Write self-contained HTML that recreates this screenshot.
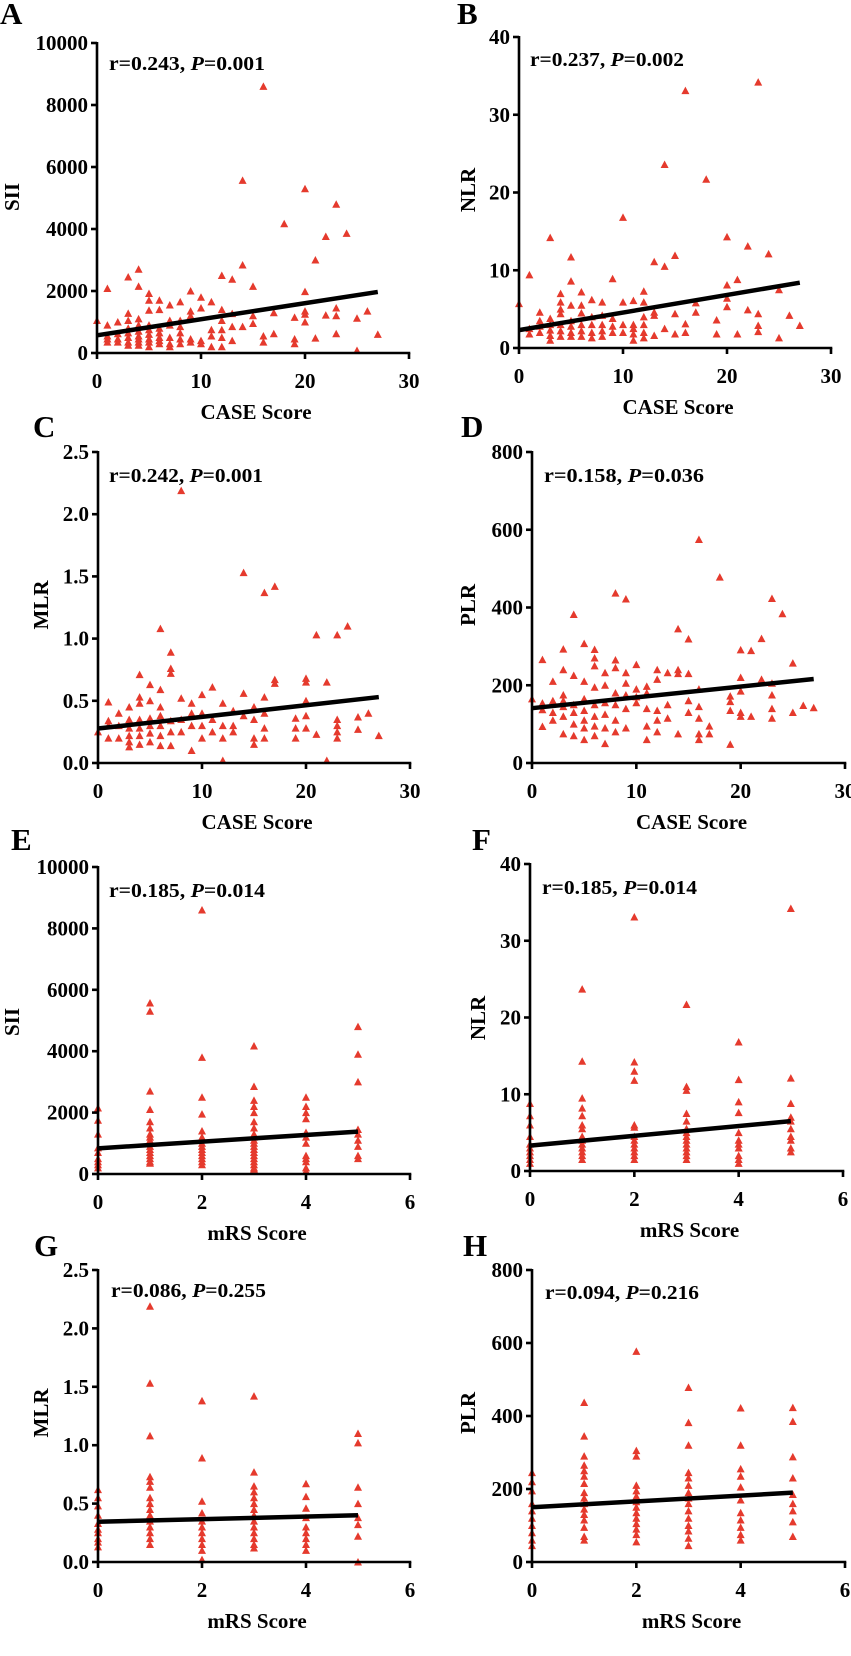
<!DOCTYPE html>
<html><head><meta charset="utf-8"><style>
html,body{margin:0;padding:0;background:#fff;}
svg{display:block;font-family:"Liberation Serif","Times New Roman",serif;font-weight:bold;}
</style></head><body>
<svg id="fig" width="851" height="1656" viewBox="0 0 851 1656" xmlns="http://www.w3.org/2000/svg"></svg>
<script>
// ---- data ----
const caseTicks = [0, 10, 20, 30];
const mrsTicks = [0, 2, 4, 6];
const siiTicks = [0, 2000, 4000, 6000, 8000, 10000];
const nlrTicks = [0, 10, 20, 30, 40];
const mlrTicks = [0, 0.5, 1.0, 1.5, 2.0, 2.5];
const plrTicks = [0, 200, 400, 600, 800];

const aSII = [[1050],[2080,900,550,450,350],[1000,620,450,350],[2450,1280,1050,800,650,500,350,250],[2700,2150,1100,900,700,550,450,350,250],[1920,1700,1380,900,750,600,450,350,200],[1700,1400,800,650,500,400,300],[1550,1050,900,500,300,200],[1650,1050,850,650,450,300],[2000,1350,1200,450,350],[1800,1450,400,300],[1650,750,550,200],[2500,1400,1050,750,500,200],[2380,1270,850,400],[5570,2840,850],[2150,1200,950],[8600,550,350],[1300,620],[4170],[1150,450,300],[5300,1980,1350,1250,1000],[3000,480],[3760,1220],[4800,1450,1200,620],[3860],[1120,80],[1350],[600]];
const bNLR = [[5.7],[9.4,1.8,2.5],[4.6,3.5,2.8,2.0],[14.2,3.8,3.0,2.3,1.6,1.0],[7.0,5.9,5.0,4.4,3.0,2.2,1.5],[11.7,8.6,5.5,3.5,2.8,2.0,1.5],[7.2,5.5,4.5,3.0,2.2,1.5],[6.2,4.0,3.0,2.0,1.3],[5.9,4.2,3.0,2.2,1.5],[8.9,3.8,2.8,2.0],[16.8,5.9,3.0,2.0],[6.1,3.0,2.5,1.8,1.0],[7.3,5.9,4.0,3.0,2.0,1.3],[11.1,4.6,4.2,1.6],[23.6,10.5,2.5],[11.9,4.4,1.8],[33.1,3.1,2.0],[5.8,4.6],[21.7],[3.6,1.8],[14.3,8.1,6.4,5.3],[8.8,1.8],[13.1,4.9],[34.2,4.4,2.9,2.1],[12.1],[7.5,1.3],[4.2],[2.9]];
const cMLR = [[0.25],[0.49,0.34,0.3,0.2],[0.40,0.3,0.2],[0.45,0.35,0.28,0.22,0.17,0.13],[0.71,0.53,0.48,0.35,0.28,0.22,0.15],[0.63,0.5,0.36,0.3,0.24,0.17],[1.08,0.59,0.45,0.38,0.3,0.22,0.14],[0.89,0.76,0.72,0.34,0.25,0.14],[2.19,0.52,0.35,0.25],[0.48,0.4,0.3,0.1],[0.55,0.4,0.3,0.2],[0.61,0.35,0.25],[0.48,0.3,0.2,0.02],[0.42,0.3,0.25],[1.53,0.56,0.38],[0.45,0.35,0.2,0.15],[1.37,0.53,0.4,0.28,0.2],[1.42,0.67,0.64],[],[0.36,0.28,0.2],[0.68,0.65,0.5,0.38,0.28],[1.03,0.23],[0.65,0.02],[1.03,0.35,0.3,0.25,0.2],[1.1],[0.37,0.27],[0.40],[0.22]];
const dPLR = [[165],[266,154,137,94],[210,160,130,110],[293,240,175,160,145,120,75],[382,225,150,130,100,70],[307,210,165,135,110,90,60],[292,270,250,195,150,120,95,70],[232,200,155,125,90,50],[437,265,245,180,150,110,80],[422,232,205,175,140,90],[253,190,170,155],[197,180,140,95,60],[240,215,135,110,80],[232,150,115],[345,240,230,75],[319,230,160,130],[575,190,145,115,75,60],[95,75],[478],[172,158,135,48],[291,220,185,130,120],[289,120],[320,215],[423,205,175,140,115],[384],[257,130],[148],[142]];
const eSII = [[2150,1750,1300,850,700,500,400,300,200],[5570,5300,2700,2100,1700,1500,1300,1200,1100,1000,900,800,700,600,500,400,350],[8600,3800,2500,1950,1400,1200,1000,900,800,700,600,500,400,300],[4170,2850,2400,2200,2000,1700,1500,1300,1200,1100,1000,900,800,700,600,500,400,300,200,150],[2500,2200,2000,1800,1350,1200,1000,600,500,400,200,100],[4800,3900,3000,1450,1300,1100,900,600,500]];
const fNLR = [[8.8,7.2,6.0,4.5,3.5,3.0,2.5,2.0,1.5,1.0],[23.7,14.3,9.5,8.2,7.2,6.0,5.5,4.5,4.0,3.5,3.0,2.5,2.0,1.5],[33.1,14.2,13.0,11.8,6.0,5.7,4.5,4.0,3.5,3.0,2.5,2.0,1.5],[21.7,11.0,10.5,7.5,6.5,5.5,5.0,4.5,4.0,3.5,3.0,2.5,2.0,1.5],[16.8,11.9,9.0,7.6,5.0,4.0,3.5,3.0,2.0,1.5,1.0],[34.2,12.1,8.8,7.0,6.5,5.5,4.5,4.0,3.0,2.5]];
const gMLR = [[0.62,0.55,0.48,0.4,0.33,0.28,0.25,0.2,0.17,0.13],[2.19,1.53,1.08,0.73,0.69,0.64,0.55,0.5,0.45,0.4,0.35,0.3,0.25,0.2,0.15],[1.38,0.89,0.52,0.42,0.35,0.3,0.25,0.2,0.15,0.1,0.02],[1.42,0.77,0.65,0.6,0.55,0.5,0.45,0.4,0.35,0.3,0.25,0.2,0.15,0.12],[0.67,0.56,0.46,0.38,0.3,0.25,0.2,0.15,0.1],[1.1,1.02,0.64,0.5,0.38,0.32,0.22,0.0]];
const hPLR = [[245,220,195,160,140,120,100,80,60,45],[437,345,290,265,250,235,215,190,175,160,145,130,115,95,70,60],[577,305,290,210,195,180,165,150,135,120,105,90,75,55],[478,382,320,245,230,210,190,175,160,140,120,100,85,65,45],[422,320,255,235,205,170,135,115,95,75,60],[423,385,288,230,185,160,140,110,70]];

// regression line: [x start, y start, x end, y end]
const aFit = [0, 570, 27, 1970];
const bFit = [0, 2.3, 27, 8.4];
const cFit = [0, 0.277, 27, 0.53];
const dFit = [0, 141, 27, 216];
const eFit = [0, 836, 5, 1380];
const fFit = [0, 3.3, 5, 6.5];
const gFit = [0, 0.345, 5, 0.40];
const hFit = [0, 150, 5, 190];

const labels = ["A","B","C","D","E","F","G","H"];
const stats = [["r=0.243, ","0.001"],["r=0.237, ","0.002"],["r=0.242, ","0.001"],["r=0.158,  ","0.036"],["r=0.185, ","0.014"],["r=0.185, ","0.014"],["r=0.086, ","0.255"],["r=0.094, ","0.216"]];

// ---- layout ----
const panels = [
 {data:aSII,fit:aFit,xt:caseTicks,yt:siiTicks,yl:"SII",xl:"CASE Score",x0:97,x1:409,y0:353,y1:43,lx:0,ly:24,sx:109,sy:70,sw:156,tx:12,ty:197},
 {data:bNLR,fit:bFit,xt:caseTicks,yt:nlrTicks,yl:"NLR",xl:"CASE Score",x0:519,x1:831,y0:348,y1:37,lx:457,ly:24,sx:530,sy:66,sw:154,tx:468,ty:190},
 {data:cMLR,fit:cFit,xt:caseTicks,yt:mlrTicks,yl:"MLR",xl:"CASE Score",x0:98,x1:410,y0:763,y1:452,lx:33,ly:437,sx:109,sy:482,sw:154,tx:41,ty:605},
 {data:dPLR,fit:dFit,xt:caseTicks,yt:plrTicks,yl:"PLR",xl:"CASE Score",x0:532,x1:845,y0:763,y1:452,lx:461,ly:437,sx:544,sy:482,sw:160,tx:468,ty:605},
 {data:eSII,fit:eFit,xt:mrsTicks,yt:siiTicks,yl:"SII",xl:"mRS Score",x0:98,x1:410,y0:1174,y1:867,lx:11,ly:850,sx:109,sy:897,sw:156,tx:12,ty:1022},
 {data:fNLR,fit:fFit,xt:mrsTicks,yt:nlrTicks,yl:"NLR",xl:"mRS Score",x0:530,x1:843,y0:1171,y1:864,lx:472,ly:850,sx:542,sy:894,sw:155,tx:478,ty:1018},
 {data:gMLR,fit:gFit,xt:mrsTicks,yt:mlrTicks,yl:"MLR",xl:"mRS Score",x0:98,x1:410,y0:1562,y1:1270,lx:34,ly:1256,sx:111,sy:1297,sw:155,tx:41,ty:1413},
 {data:hPLR,fit:hFit,xt:mrsTicks,yt:plrTicks,yl:"PLR",xl:"mRS Score",x0:532,x1:845,y0:1562,y1:1270,lx:463,ly:1256,sx:545,sy:1299,sw:154,tx:468,ty:1413}
];

const NS = "http://www.w3.org/2000/svg";
const svg = document.getElementById("fig");
function mk(tag, attrs, parent){
  const e = document.createElementNS(NS, tag);
  for (const k in attrs) e.setAttribute(k, attrs[k]);
  parent.appendChild(e);
  return e;
}
function fmt(v, ticks){ return ticks[ticks.length-1] <= 3 ? v.toFixed(1) : String(v); }

panels.forEach((p, i) => {
  const g = mk("g", {}, svg);
  
  
  const xmax = p.xt[p.xt.length-1], ymax = p.yt[p.yt.length-1];
  const X = v => p.x0 + (p.x1 - p.x0) * v / xmax;
  const Y = v => p.y0 - (p.y0 - p.y1) * v / ymax;

  const L = mk("text", {x:p.lx, y:p.ly, "font-size":31, fill:"#000"}, g);
  L.textContent = labels[i];
  
  

  // points
  const pts = mk("g", {fill:"#e53a2d"}, g);
  
  
  p.data.forEach((vals, xi) => {
    vals.forEach(v => {
      const cx = X(xi), cy = Y(v);
      const t = mk("polygon", {points:`${cx-4},${cy+3.5} ${cx+4},${cy+3.5} ${cx},${cy-4}`}, pts);
      
      
    });
  });

  // fit line
  const f = p.fit;
  const ln = mk("line", {x1:X(f[0]), y1:Y(f[1]), x2:X(f[2]), y2:Y(f[3]), stroke:"#000", "stroke-width":4.5}, g);
  
  

  // axes
  const ax = mk("g", {stroke:"#000", "stroke-width":2.6, fill:"none"}, g);
  
  
  mk("line", {x1:p.x0, y1:p.y1-1, x2:p.x0, y2:p.y0+1.3}, ax);
  mk("line", {x1:p.x0-1.3, y1:p.y0, x2:p.x1+1.3, y2:p.y0}, ax);
  p.yt.forEach(v => {
    mk("line", {x1:p.x0-6, y1:Y(v), x2:p.x0, y2:Y(v)}, ax);
    const t = mk("text", {x:p.x0-9, y:Y(v)+7, "font-size":21, "text-anchor":"end", fill:"#000", stroke:"none"}, g);
    t.textContent = fmt(v, p.yt);
    
    
  });
  p.xt.forEach(v => {
    mk("line", {x1:X(v), y1:p.y0, x2:X(v), y2:p.y0+6}, ax);
    const t = mk("text", {x:X(v), y:p.y0+35, "font-size":21, "text-anchor":"middle", fill:"#000"}, g);
    t.textContent = String(v);
    
    
  });

  // axis titles
  const xt = mk("text", {x:(p.x0+p.x1)/2 + 3, y:p.y0 + 66, "font-size":21, "text-anchor":"middle", fill:"#000"}, g);
  xt.textContent = p.xl;
  
  
  const yt = mk("text", {x:0, y:0, "font-size":21, "text-anchor":"middle", fill:"#000", transform:`translate(${p.tx+7},${p.ty}) rotate(-90)`}, g);
  yt.textContent = p.yl;
  
  

  // stats annotation
  const st = mk("text", {x:p.sx, y:p.sy, "font-size":20, fill:"#000", textLength:p.sw, lengthAdjust:"spacingAndGlyphs"}, g);
  
  
  const s1 = mk("tspan", {}, st); s1.textContent = stats[i][0];
  const s2 = mk("tspan", {"font-style":"italic"}, st); s2.textContent = "P";
  const s3 = mk("tspan", {}, st); s3.textContent = "=" + stats[i][1];
});
</script>
</body></html>
